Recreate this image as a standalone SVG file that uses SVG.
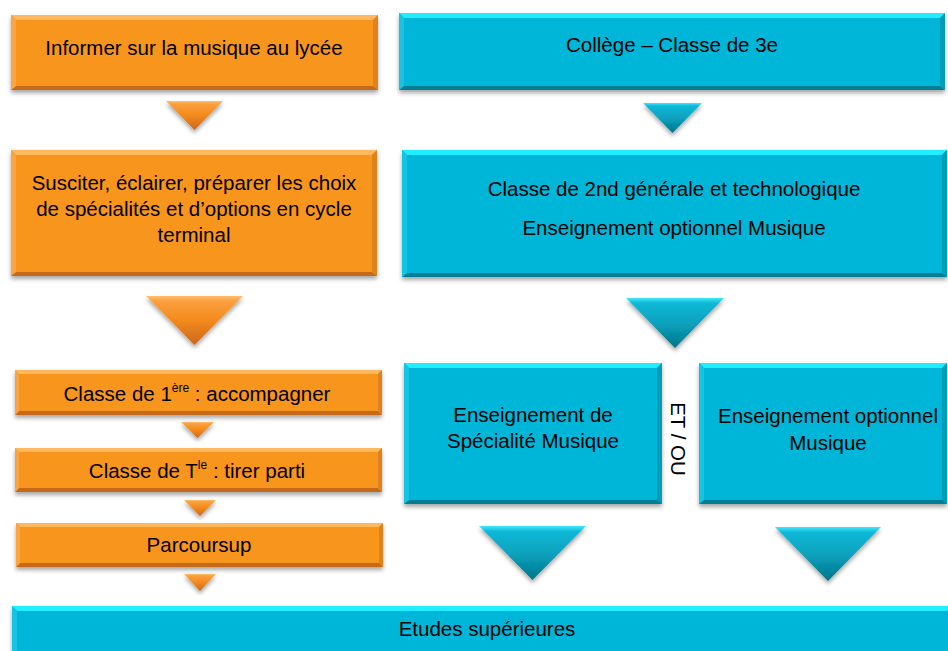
<svg xmlns="http://www.w3.org/2000/svg" width="948" height="651" viewBox="0 0 948 651">
<defs>
<style>
text{font-family:"Liberation Sans",Arial,sans-serif;font-size:20.5px;fill:#000;text-anchor:middle}
.o{fill:#F8951F}.ot{fill:#FFB85E}.ob{fill:#C46A1A}.ol{fill:#FBA441}.or{fill:#E0821A}
.t{fill:#00B6D8}.tt{fill:#20EEFF}.tb{fill:#007E94}.tl{fill:#14C4E2}.tr{fill:#009CB8}
.sh{filter:url(#ds)}
.ao{fill:url(#gO)}.at{fill:url(#gT)}
</style>
<filter id="ds" x="-5%" y="-10%" width="110%" height="130%">
<feDropShadow dx="0" dy="3" stdDeviation="2" flood-color="#000" flood-opacity="0.35"/>
</filter>
<linearGradient id="gO" x1="0" y1="0" x2="0" y2="1">
<stop offset="0" stop-color="#FFC070"/><stop offset="0.1" stop-color="#FBA040"/><stop offset="0.5" stop-color="#F38A1A"/><stop offset="1" stop-color="#C9671A"/>
</linearGradient>
<linearGradient id="gT" x1="0" y1="0" x2="0" y2="1">
<stop offset="0" stop-color="#40E8FF"/><stop offset="0.1" stop-color="#10B8D6"/><stop offset="0.5" stop-color="#0AA2BE"/><stop offset="1" stop-color="#00758A"/>
</linearGradient>
</defs>
<rect width="948" height="651" fill="#fff"/>

<g id="connectors">
<polygon class="ao sh" points="166,101 223,101 194.5,130"/>
<polygon class="at sh" points="643,103 702,103 672.5,133"/>
<polygon class="ao sh" points="146,296 243,296 194.5,345"/>
<polygon class="at sh" points="626,298 724,298 675,348"/>
<polygon class="ao sh" points="181,422 214,422 197.5,438"/>
<polygon class="ao sh" points="184,500 216,500 200,516"/>
<polygon class="ao sh" points="184,574 216,574 200,591"/>
<polygon class="at sh" points="479,526 586,526 532.5,580"/>
<polygon class="at sh" points="775,527 881,527 828,581"/>
</g>

<g id="n-informer">
<rect class="o sh" x="11" y="15" width="367" height="75"/>
<polygon class="ot" points="11,15 378,15 373,20 16,20"/>
<polygon class="ob" points="11,90 378,90 373,86 16,86"/>
<polygon class="ol" points="11,15 16,20 16,86 11,90"/>
<polygon class="or" points="378,15 373,20 373,86 378,90"/>
<text x="194" y="55">Informer sur la musique au lycée</text>
</g>

<g id="n-college">
<rect class="t sh" x="399" y="13" width="546" height="77"/>
<polygon class="tt" points="399,13 945,13 940,18 404,18"/>
<polygon class="tb" points="399,90 945,90 940,86 404,86"/>
<polygon class="tl" points="399,13 404,18 404,86 399,90"/>
<polygon class="tr" points="945,13 940,18 940,86 945,90"/>
<text x="672" y="52">Collège – Classe de 3e</text>
</g>

<g id="n-susciter">
<rect class="o sh" x="11" y="150" width="366" height="126"/>
<polygon class="ot" points="11,150 377,150 372,155 16,155"/>
<polygon class="ob" points="11,276 377,276 372,272 16,272"/>
<polygon class="ol" points="11,150 16,155 16,272 11,276"/>
<polygon class="or" points="377,150 372,155 372,272 377,276"/>
<text x="194" y="190">Susciter, éclairer, préparer les choix</text>
<text x="194" y="216">de spécialités et d’options en cycle</text>
<text x="194" y="242">terminal</text>
</g>

<g id="n-seconde">
<rect class="t sh" x="402" y="150" width="545" height="127"/>
<polygon class="tt" points="402,150 947,150 942,155 407,155"/>
<polygon class="tb" points="402,277 947,277 942,273 407,273"/>
<polygon class="tl" points="402,150 407,155 407,273 402,277"/>
<polygon class="tr" points="947,150 942,155 942,273 947,277"/>
<text x="674" y="196">Classe de 2nd générale et technologique</text>
<text x="674" y="235">Enseignement optionnel Musique</text>
</g>

<g id="n-premiere">
<rect class="o sh" x="15" y="370" width="367" height="45"/>
<polygon class="ot" points="15,370 382,370 378,374 19,374"/>
<polygon class="ob" points="15,415 382,415 378,411 19,411"/>
<polygon class="ol" points="15,370 19,374 19,411 15,415"/>
<polygon class="or" points="382,370 378,374 378,411 382,415"/>
<text x="197" y="401">Classe de 1<tspan font-size="12" dy="-9">ère</tspan><tspan dy="9"> : accompagner</tspan></text>
</g>

<g id="n-terminale">
<rect class="o sh" x="15" y="448" width="367" height="44"/>
<polygon class="ot" points="15,448 382,448 378,452 19,452"/>
<polygon class="ob" points="15,492 382,492 378,488 19,488"/>
<polygon class="ol" points="15,448 19,452 19,488 15,492"/>
<polygon class="or" points="382,448 378,452 378,488 382,492"/>
<text x="197" y="478">Classe de T<tspan font-size="12" dy="-9">le</tspan><tspan dy="9"> : tirer parti</tspan></text>
</g>

<g id="n-parcoursup">
<rect class="o sh" x="16" y="523" width="367" height="44"/>
<polygon class="ot" points="16,523 383,523 379,527 20,527"/>
<polygon class="ob" points="16,567 383,567 379,563 20,563"/>
<polygon class="ol" points="16,523 20,527 20,563 16,567"/>
<polygon class="or" points="383,523 379,527 379,563 383,567"/>
<text x="199" y="552">Parcoursup</text>
</g>

<g id="n-specialite">
<rect class="t sh" x="404" y="363" width="258" height="141"/>
<polygon class="tt" points="404,363 662,363 657,368 409,368"/>
<polygon class="tb" points="404,504 662,504 657,500 409,500"/>
<polygon class="tl" points="404,363 409,368 409,500 404,504"/>
<polygon class="tr" points="662,363 657,368 657,500 662,504"/>
<text x="533" y="422">Enseignement de</text>
<text x="533" y="448">Spécialité Musique</text>
</g>

<g id="n-etou">
<text x="0" y="0" transform="translate(671,439) rotate(90)">ET / OU</text>
</g>

<g id="n-optionnel">
<rect class="t sh" x="699" y="363" width="248" height="141"/>
<polygon class="tt" points="699,363 947,363 942,368 704,368"/>
<polygon class="tb" points="699,504 947,504 942,500 704,500"/>
<polygon class="tl" points="699,363 704,368 704,500 699,504"/>
<polygon class="tr" points="947,363 942,368 942,500 947,504"/>
<text x="828" y="423">Enseignement optionnel</text>
<text x="828" y="450">Musique</text>
</g>

<g id="n-etudes">
<rect class="t sh" x="12" y="606" width="940" height="50"/>
<polygon class="tt" points="12,606 952,606 947,611 17,611"/>
<polygon class="tl" points="12,606 17,611 17,656 12,656"/>
<text x="487" y="636">Etudes supérieures</text>
</g>
</svg>
